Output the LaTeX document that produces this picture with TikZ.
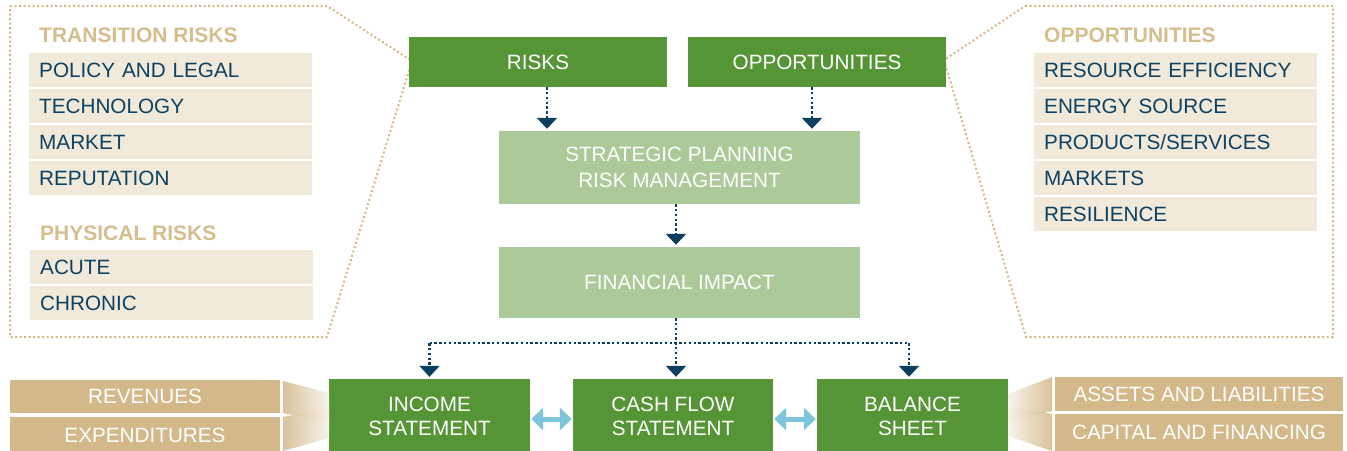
\documentclass[tikz,border=0pt]{standalone}
\usepackage{fontspec}
\setmainfont{Liberation Sans}
\usetikzlibrary{arrows.meta,calc}
\definecolor{cgreen}{HTML}{569536}
\definecolor{clight}{HTML}{ABC999}
\definecolor{cnavy}{HTML}{0B3F5F}
\definecolor{ctan}{HTML}{D3B88A}
\definecolor{cbeige}{HTML}{F1E9DA}
\definecolor{cgold}{HTML}{D5BD8E}
\definecolor{cdot}{HTML}{D6B986}
\definecolor{cblue}{HTML}{7CC5DA}
\definecolor{ctext}{HTML}{0D4262}
\definecolor{cfan}{HTML}{F7F2E9}
\begin{document}
\begin{tikzpicture}[x=1pt,y=-1pt,
  txt/.style={font=\fontsize{20.7pt}{24pt}\selectfont},
  oneline/.style={text height=14.8pt,text depth=0pt},
  greenbox/.style={txt,fill=cgreen,text=white,inner sep=0pt,align=center},
  lightbox/.style={txt,fill=clight,text=white,inner sep=0pt,align=center},
  itembox/.style={txt,oneline,fill=cbeige,text=ctext,anchor=north west,
    minimum height=34pt,text width=263pt,inner xsep=10pt,inner ysep=0pt,align=left},
  tanbox/.style={txt,oneline,fill=ctan,text=white,inner sep=0pt,align=center},
  heading/.style={font=\fontsize{21pt}{24pt}\selectfont\bfseries,text=cgold,inner sep=0pt,anchor=base west},
  goldborder/.style={draw=cdot,line width=2pt,dash pattern=on 2pt off 2.5pt},
  navyline/.style={draw=cnavy,line width=2.4pt,dash pattern=on 2.4pt off 2.4pt},
  navyarrow/.style={navyline,-{Triangle[width=20pt,length=11pt]},shorten >=2pt},
  bluearrow/.style={draw=cblue,line width=5pt,
    {Triangle[width=22pt,length=12pt]}-{Triangle[width=22pt,length=12pt]},shorten <=1pt,shorten >=1pt},
  fan/.style={opacity=0.85}
]
\clip (0,0) rectangle (1347,450);
\fill[white] (0,0) rectangle (1347,450);

% dotted callout outlines
\draw[goldborder] (10,6) -- (327,6) -- (412,61) -- (327,337) -- (10,337) -- cycle;
\draw[goldborder] (1025,6) -- (1333,6) -- (1333,337) -- (1026,337) -- (944,60) -- cycle;

% left panel
\node[heading] (htr) at (39,42) {TRANSITION RISKS};
\node[itembox] (l1) at (29,53) {POLICY AND LEGAL};
\node[itembox] (l2) at (29,89) {TECHNOLOGY};
\node[itembox] (l3) at (29,125) {MARKET};
\node[itembox] (l4) at (29,161) {REPUTATION};
\node[heading] (hph) at (40,240) {PHYSICAL RISKS};
\node[itembox] (l5) at (30,250) {ACUTE};
\node[itembox] (l6) at (30,286) {CHRONIC};

% right panel
\node[heading] (hop) at (1044,42) {OPPORTUNITIES};
\node[itembox] (r1) at (1034,53) {RESOURCE EFFICIENCY};
\node[itembox] (r2) at (1034,89) {ENERGY SOURCE};
\node[itembox] (r3) at (1034,125) {PRODUCTS/SERVICES};
\node[itembox] (r4) at (1034,161) {MARKETS};
\node[itembox] (r5) at (1034,197) {RESILIENCE};

% central flow
\node[greenbox,oneline,minimum width=258pt,minimum height=50pt] (risks) at (538,62) {RISKS};
\node[greenbox,oneline,minimum width=258pt,minimum height=50pt] (opp) at (817,62) {OPPORTUNITIES};
\node[lightbox,font=\fontsize{20.7pt}{26pt}\selectfont,minimum width=361pt,minimum height=73pt] (strat) at (679.5,167.5) {STRATEGIC PLANNING\\RISK MANAGEMENT};
\node[lightbox,oneline,minimum width=361pt,minimum height=71pt] (fin) at (679.5,282.5) {FINANCIAL IMPACT};

\node[greenbox,minimum width=201pt,minimum height=74pt] (income) at (429.5,416) {INCOME\\STATEMENT};
\node[greenbox,minimum width=200pt,minimum height=74pt] (cash) at (673,416) {CASH FLOW\\STATEMENT};
\node[greenbox,minimum width=191pt,minimum height=74pt] (balance) at (912.5,416) {BALANCE\\SHEET};

% tan side boxes
\node[tanbox,minimum width=270pt,minimum height=33pt] (rev) at (145,396.5) {REVENUES};
\node[tanbox,minimum width=270pt,minimum height=37pt] (exp) at (145,435.5) {EXPENDITURES};
\node[tanbox,minimum width=288pt,minimum height=34pt] (ass) at (1199,394) {ASSETS AND LIABILITIES};
\node[tanbox,minimum width=288pt,minimum height=37pt] (cap) at (1199,432.5) {CAPITAL AND FINANCING};

% fans
\shade[fan,left color=ctan,right color=cfan] (283,381) -- (329,393) -- (329,423) -- (283,413) -- cycle;
\shade[fan,left color=ctan,right color=cfan] (283,417) -- (329,408) -- (329,438) -- (283,451) -- cycle;
\shade[fan,left color=cfan,right color=ctan] (1008,394) -- (1052,377) -- (1052,411) -- (1008,422) -- cycle;
\shade[fan,left color=cfan,right color=ctan] (1008,407) -- (1052,414) -- (1052,451) -- (1008,436) -- cycle;

% navy connectors
\coordinate (ar) at ($(risks.south)+(9,0)$);
\coordinate (ao) at ($(opp.south)+(-5,0)$);
\coordinate (as) at ($(strat.south)+(-3.5,0)$);
\coordinate (af) at ($(fin.south)+(-3.5,0)$);
\coordinate (jn) at ($(af)+(0,25)$);
\coordinate (ab) at ($(balance.north)+(-3.5,0)$);
\draw[navyarrow] (ar) -- (ar |- strat.north);
\draw[navyarrow] (ao) -- (ao |- strat.north);
\draw[navyarrow] (as) -- (as |- fin.north);
\draw[navyarrow] (af) -- (af |- cash.north);
\draw[navyline] (jn -| income.north) -- (jn -| ab);
\draw[navyarrow] (jn -| income.north) -- (income.north);
\draw[navyarrow] (jn -| ab) -- (ab);

% blue double arrows
\draw[bluearrow] ($(income.east)+(0,3)$) -- ($(cash.west)+(0,3)$);
\draw[bluearrow] ($(cash.east)+(0,3)$) -- ($(balance.west)+(0,3)$);
\end{tikzpicture}
\end{document}
